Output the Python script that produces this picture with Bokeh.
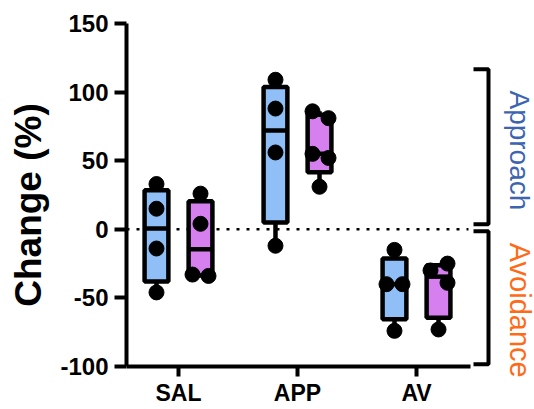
import math
from bokeh.plotting import figure
from bokeh.models import FixedTicker, Range1d
from bokeh.core.properties import value
from bokeh.embed import file_html
from bokeh.resources import INLINE

# ---- data ----
categories = ["SAL", "APP", "AV"]
groups = ["blue", "pink"]
sal_blue = [33, 15, -14, -46]
sal_pink = [26, 4, -33, -34]
app_blue = [109, 88, 56, -12]
app_pink = [86, 81, 55, 52, 31]
av_blue = [-15, -40, -40, -74]
av_pink = [-25, -30, -39, -73]
y_ticks = [-100, -50, 0, 50, 100, 150]
y_tick_labels = ["-100", "-50", "0", "50", "100", "150"]
side_labels = ["Approach", "Avoidance"]

# jitter of individual points (screen px), styling only
sal_blue_j = [0, 0, 0, 0]
sal_pink_j = [0, 0, -8, 8]
app_blue_j = [0, 0, 0, 0]
app_pink_j = [-7, 9, -7, 9, 0]
av_blue_j = [0, -8, 8, 0]
av_pink_j = [9, -8, 9, 0]

series = [
    (0, "blue", sal_blue, sal_blue_j), (0, "pink", sal_pink, sal_pink_j),
    (1, "blue", app_blue, app_blue_j), (1, "pink", app_pink, app_pink_j),
    (2, "blue", av_blue, av_blue_j), (2, "pink", av_pink, av_pink_j),
]

COL = {"blue": "#90bff8", "pink": "#d67fee"}
OFF = {"blue": -0.185, "pink": 0.185}
PX = 119.0         # px per category unit
PY = 343 / 250.0   # px per y unit
W, H = 534, 409
LEFT = 126
TOP = 23           # pixel row of y=150


def quant(vals, p):
    s = sorted(vals)
    n = len(s)
    pos = (n + 1) * p
    lo = int(math.floor(pos))
    frac = pos - lo
    lo = max(1, min(n, lo))
    hi = max(1, min(n, lo + 1))
    return s[lo - 1] + frac * (s[hi - 1] - s[lo - 1])


x0 = 1 - (178 - LEFT) / PX
x1 = x0 + (W - LEFT) / PX
y1 = 150 + TOP / PY
y0 = y1 - H / PY
p = figure(frame_width=W - LEFT, frame_height=H, min_border_left=LEFT, min_border_right=0,
           min_border_top=0, min_border_bottom=0,
           x_range=Range1d(x0, x1), y_range=Range1d(y0, y1),
           output_backend="svg", toolbar_location=None)
p.outline_line_color = None
p.xgrid.visible = False
p.ygrid.visible = False
p.background_fill_color = "white"
p.border_fill_color = "white"

FONT = "Liberation Sans"

# axes
p.yaxis.ticker = FixedTicker(ticks=y_ticks)
p.yaxis.major_label_overrides = dict(zip(y_ticks, y_tick_labels))
p.yaxis.bounds = (-100, 150)
p.xaxis.ticker = FixedTicker(ticks=[1, 2, 3])
p.xaxis.major_label_overrides = {i + 1: c for i, c in enumerate(categories)}
p.xaxis.bounds = (x0, 1 + (470 - 178) / PX)
p.xaxis.fixed_location = -100
for ax in (p.xaxis, p.yaxis):
    ax.axis_line_width = 4
    ax.axis_line_color = "black"
    ax.major_tick_line_width = 4
    ax.major_tick_line_color = "black"
    ax.major_tick_in = 0
    ax.minor_tick_line_color = None
    ax.major_label_text_font = FONT
    ax.major_label_text_font_style = "bold"
    ax.major_label_text_color = "black"
    ax.major_label_text_font_size = "24px"
p.yaxis.major_tick_out = 12
p.yaxis.major_label_standoff = 6
p.xaxis.major_tick_out = 10
p.xaxis.major_label_standoff = 3
p.xaxis.major_label_text_font_size = "23px"
p.yaxis.axis_label = "Change (%)"
p.yaxis.axis_label_text_font = FONT
p.yaxis.axis_label_text_font_style = "bold"
p.yaxis.axis_label_text_font_size = "37px"
p.yaxis.axis_label_text_color = "black"
p.yaxis.axis_label_standoff = 8

# zero dotted line
p.line([x0, 1 + (468 - 178) / PX], [0, 0], line_color="black", line_width=2.5,
       line_dash="3 7")

# boxes
LW = 4.5
for ci, g, vals, jit in series:
    xc = ci + 1 + OFF[g]
    q1 = quant(vals, 0.25)
    q3 = quant(vals, 0.75)
    med = quant(vals, 0.5)
    p.segment([xc, xc], [q3, q1], [xc, xc], [max(vals), min(vals)],
              line_color="black", line_width=LW)
    p.vbar(x=[xc], width=0.2, top=[q3], bottom=[q1], fill_color=COL[g],
           line_color="black", line_width=LW)
    p.segment([xc - 0.1], [med], [xc + 0.1], [med], line_color="black", line_width=LW)

for ci, g, vals, jit in series:
    xc = ci + 1 + OFF[g]
    p.scatter([xc + j / PX for j in jit], vals, size=15, fill_color="black",
              line_color="black", marker="circle")

# brackets
bx = 1 + (488 - 178) / PX
bt = 1 + (473 - 178) / PX
for top, bot in [(116.6, 3.6), (-1.5, -98.4)]:
    p.line([bt, bx, bx, bt], [top, top, bot, bot], line_color="black", line_width=4)

tx = 1 + (519 - 178) / PX
p.text(x=[tx], y=[57.5], text=[side_labels[0]], angle=-math.pi / 2,
       text_color="#3d64b0", text_font=value(FONT), text_font_size="28px",
       text_align="center", text_baseline="middle")
p.text(x=[tx], y=[-59], text=[side_labels[1]], angle=-math.pi / 2,
       text_color="#ff6a17", text_font=value(FONT), text_font_size="29px",
       text_align="center", text_baseline="middle")

open("out.html", "w").write(file_html(p, INLINE))
